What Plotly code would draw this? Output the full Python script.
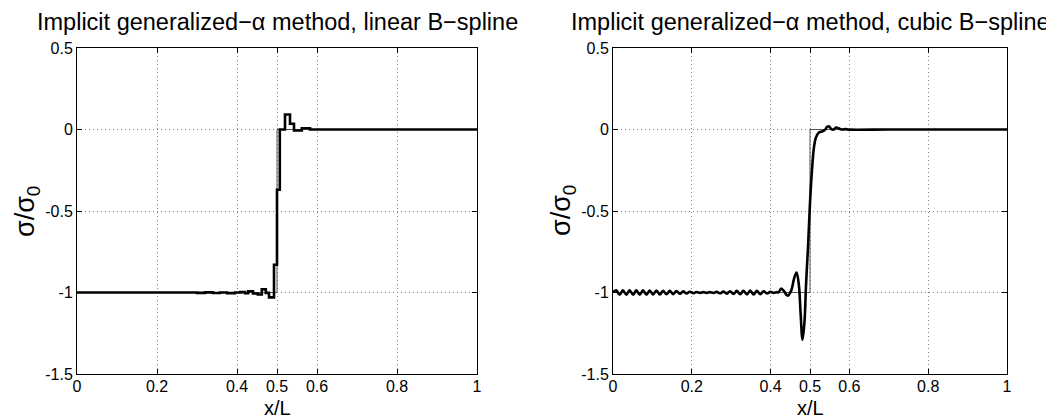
import plotly.graph_objects as go

# ---- data ----
exact_x = [0.0, 0.5, 0.5, 1.0]
exact_y = [-1.0, -1.0, 0.0, 0.0]

# linear B-spline (piecewise constant stress)
lin_x = [0.000, 0.300, 0.320, 0.340, 0.357, 0.375, 0.395, 0.408, 0.420, 0.428,
         0.440, 0.452, 0.462, 0.472, 0.480, 0.4925, 0.500, 0.507, 0.520, 0.5325,
         0.5425, 0.562, 0.5825, 1.000]
lin_y = [-1.000, -1.002, -0.999, -1.003, -1.000, -1.004, -1.000, -0.998, -1.005, -0.992,
         -1.006, -1.012, -0.980, -1.002, -1.030, -0.830, -0.370, 0.000, 0.092, 0.035,
         -0.006, 0.008, 0.000, 0.000]

# cubic B-spline (smooth, with oscillations)
cub_x = [0.000, 0.008, 0.017, 0.025, 0.034, 0.042, 0.051, 0.059, 0.068, 0.076,
         0.085, 0.093, 0.102, 0.110, 0.119, 0.127, 0.136, 0.144, 0.153, 0.161,
         0.170, 0.178, 0.187, 0.195, 0.204, 0.212, 0.221, 0.229, 0.238, 0.246,
         0.255, 0.263, 0.272, 0.280, 0.289, 0.297, 0.306, 0.314, 0.323, 0.331,
         0.340, 0.348, 0.357, 0.365, 0.374, 0.382, 0.391, 0.399, 0.408, 0.416,
         0.420, 0.427, 0.435, 0.443, 0.452, 0.460, 0.466, 0.472, 0.476, 0.481,
         0.486, 0.490, 0.495, 0.500, 0.505, 0.510, 0.515, 0.522, 0.530, 0.537,
         0.543, 0.548, 0.554, 0.560, 0.566, 0.572, 0.580, 0.590, 0.600, 0.700,
         0.800, 0.900, 1.000]
cub_y = [-1.000, -0.986, -1.014, -0.986, -1.014, -0.986, -1.014, -0.987, -1.013, -0.987,
         -1.013, -0.988, -1.012, -0.988, -1.012, -0.989, -1.011, -0.990, -1.010, -0.991,
         -1.008, -0.993, -1.006, -0.995, -1.004, -0.997, -1.002, -0.998, -1.002, -0.998,
         -1.003, -0.996, -1.005, -0.994, -1.007, -0.992, -1.009, -0.990, -1.011, -0.989,
         -1.012, -0.988, -1.012, -0.989, -1.010, -0.992, -1.006, -0.996, -1.002, -0.998,
         -1.000, -0.975, -0.995, -1.020, -0.990, -0.910, -0.877, -0.960, -1.120, -1.290,
         -1.180, -0.950, -0.720, -0.450, -0.250, -0.110, -0.050, -0.020, -0.012, -0.005,
         0.015, 0.020, 0.002, 0.000, 0.012, 0.008, 0.000, 0.002, -0.001, 0.000,
         0.000, 0.000, 0.000]

x_ticks = [0, 0.2, 0.4, 0.5, 0.6, 0.8, 1]
x_ticktext = ["0", "0.2", "0.4", "0.5", "0.6", "0.8", "1"]
y_ticks = [-1.5, -1, -0.5, 0, 0.5]
y_ticktext = ["-1.5", "-1", "-0.5", "0", "0.5"]

titles = ["Implicit generalized\u2212\u03b1 method, linear B\u2212spline",
          "Implicit generalized\u2212\u03b1 method, cubic B\u2212spline"]

# the page body adds an 8px offset; all pixel positions below are in figure space
OFF = 8
W, H = 1054 - OFF, 420 - OFF
FONT = "Liberation Sans, Arial, sans-serif"

fig = go.Figure()

fig.add_trace(go.Scatter(x=exact_x, y=exact_y, mode="lines", xaxis="x", yaxis="y",
                         line=dict(color="#555555", width=1), showlegend=False))
fig.add_trace(go.Scatter(x=lin_x, y=lin_y, mode="lines", xaxis="x", yaxis="y",
                         line=dict(color="black", width=2.6, shape="hv"), showlegend=False))
fig.add_trace(go.Scatter(x=exact_x, y=exact_y, mode="lines", xaxis="x2", yaxis="y2",
                         line=dict(color="#555555", width=1), showlegend=False))
fig.add_trace(go.Scatter(x=cub_x, y=cub_y, mode="lines", xaxis="x2", yaxis="y2",
                         line=dict(color="black", width=2.6, shape="spline", smoothing=1.0),
                         showlegend=False))

GRID = dict(showgrid=True, gridcolor="#808080", griddash="1px,3px", gridwidth=1)

def xax(domain, anchor):
    return dict(domain=domain, anchor=anchor, range=[0, 1], tickvals=x_ticks, ticktext=x_ticktext,
                showline=True, linecolor="black", linewidth=1, mirror="ticks",
                ticks="inside", ticklen=5, tickcolor="black", automargin=False,
                ticklabelstandoff=-2,
                zeroline=False, tickfont=dict(size=16, color="black", family=FONT), **GRID)

def yax(domain, anchor):
    return dict(domain=domain, anchor=anchor, range=[-1.5, 0.5], tickvals=y_ticks, ticktext=y_ticktext,
                showline=True, linecolor="black", linewidth=1, mirror="ticks",
                ticks="inside", ticklen=5, tickcolor="black", automargin=False,
                zeroline=False, tickfont=dict(size=16, color="black", family=FONT), **GRID)

def px_x(p):
    return (p - OFF) / W

def px_y(p):
    return 1 - (p - OFF) / H

xd1 = [px_x(77), px_x(477)]
xd2 = [px_x(613), px_x(1007)]
yd = [px_y(374), px_y(48)]

fig.update_layout(
    width=W, height=H,
    margin=dict(l=0, r=0, t=0, b=0, pad=0),
    paper_bgcolor="white", plot_bgcolor="white",
    font=dict(family=FONT, color="black"),
    xaxis=xax(xd1, "y"), yaxis=yax(yd, "x"),
    xaxis2=xax(xd2, "y2"), yaxis2=yax(yd, "x2"),
)

ann = []
for i, (xd, t) in enumerate(zip([xd1, xd2], titles)):
    cx = (xd[0] + xd[1]) / 2
    ann.append(dict(text=t, x=cx, y=1.0, xref="paper", yref="paper",
                    xanchor="center", yanchor="top", showarrow=False, borderpad=0,
                    font=dict(size=23.5, family=FONT, color="black")))
    ann.append(dict(text="x/L", x=cx, y=0.0, xref="paper", yref="paper",
                    xanchor="center", yanchor="bottom", showarrow=False, borderpad=0,
                    font=dict(size=20, family=FONT, color="black")))
    ann.append(dict(text="\u03c3/\u03c3<sub>0</sub>", x=xd[0] - 50 / W, y=px_y(211),
                    xref="paper", yref="paper", xanchor="center", yanchor="middle",
                    textangle=-90, showarrow=False, borderpad=0,
                    font=dict(size=27, family=FONT, color="black")))
fig.update_layout(annotations=ann)

fig.write_html("out.html")
